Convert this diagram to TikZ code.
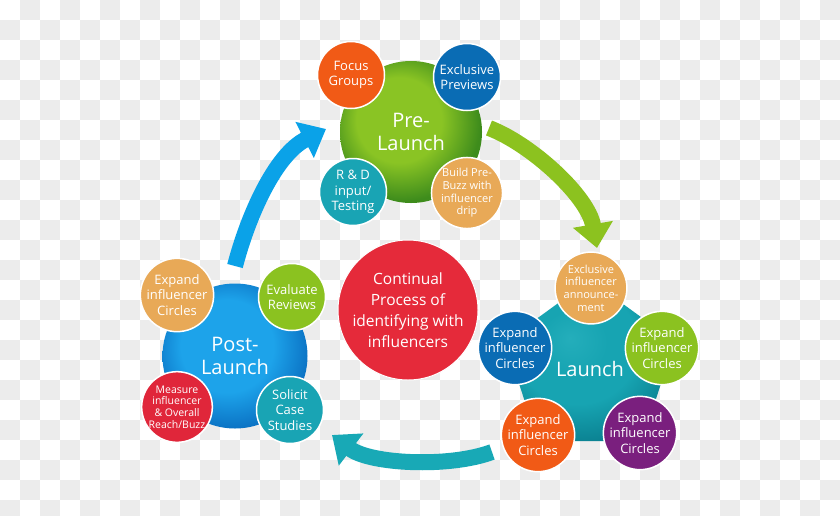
\documentclass[tikz,border=0pt]{standalone}
\usepackage{fontspec}
\setmainfont{Open Sans}
\usetikzlibrary{arrows.meta,shapes.geometric}
\definecolor{chk}{HTML}{ECECEC}
\definecolor{cOrange}{HTML}{F15A16}
\definecolor{cBlue}{HTML}{0A6CB4}
\definecolor{cTeal}{HTML}{19A4B4}
\definecolor{cTan}{HTML}{E8A957}
\definecolor{cGreen}{HTML}{8BC220}
\definecolor{cPurple}{HTML}{7A1F7E}
\definecolor{cRed}{HTML}{E0263A}
\definecolor{cCenter}{HTML}{E52A3A}
\definecolor{aBlue}{HTML}{0AA2E8}
\definecolor{aGreen}{HTML}{8CC21F}
\definecolor{aTeal}{HTML}{18A9B6}
\definecolor{gLight}{HTML}{8AC424}
\definecolor{gDark}{HTML}{3E8C1C}
\definecolor{bLight}{HTML}{1DA3EA}
\definecolor{bDark}{HTML}{0A70C2}
\definecolor{tLight}{HTML}{24AEBB}
\definecolor{tMid}{HTML}{17A4B2}
\definecolor{tDark}{HTML}{0A8090}
\pgfdeclareradialshading{greenball}{\pgfpoint{-6bp}{6bp}}{color(0bp)=(gLight); color(15bp)=(gLight); color(27bp)=(gDark); color(50bp)=(gDark)}
\pgfdeclareradialshading{blueball}{\pgfpoint{-4bp}{5bp}}{color(0bp)=(bLight); color(16bp)=(bLight); color(28bp)=(bDark); color(50bp)=(bDark)}
\pgfdeclareradialshading{tealball}{\pgfpoint{-6bp}{7bp}}{color(0bp)=(tLight); color(10bp)=(tMid); color(18bp)=(tMid); color(29bp)=(tDark); color(50bp)=(tDark)}
\tikzset{
  small/.style={circle, minimum size=67pt, inner sep=0pt, draw=white, line width=1.5pt,
    fill=#1, text=white, align=center, font=\fontsize{13}{15.5}\selectfont},
  tiny/.style={font=\fontsize{11}{12.7}\selectfont},
  tinier/.style={font=\fontsize{10.5}{11.6}\selectfont},
  big/.style={circle, minimum size=#1, inner sep=0pt, text=white, align=center,
    font=\fontsize{20}{23.5}\selectfont},
  flow/.style={draw=#1, line width=16pt, -{Triangle[width=39pt,length=24pt]}}
}
\begin{document}
\begin{tikzpicture}[x=1pt,y=-1pt]
\useasboundingbox (0,0) rectangle (840,515);
% checkerboard background
\fill[white] (0,0) rectangle (840,515);
\foreach \i in {0,...,41}{
  \foreach \j in {0,...,25}{
    \pgfmathtruncatemacro{\parity}{mod(\i+\j,2)}
    \ifnum\parity=1 \fill[chk] (\i*20,\j*20) rectangle ++(20,20);\fi
  }
}
% arrows
\coordinate (bA) at (235,266);
\coordinate (bB) at (326,129);
\coordinate (gA) at (489,128);
\coordinate (gB) at (597,248);
\coordinate (tA) at (492,452);
\coordinate (tB) at (332,435);
\draw[flow=aBlue] (bA) .. controls (248,216) and (275,155) .. (bB);
\draw[flow=aGreen] (gA) .. controls (531,144) and (588,196) .. (gB);
\draw[flow=aTeal] (tA) .. controls (449,468) and (370,464) .. (tB);
% central circle
\node[circle, minimum size=140pt, inner sep=0pt, fill=cCenter, draw=white, line width=1pt,
  text=white, align=center, font=\fontsize{15.5}{21}\selectfont] (core) at (408,310)
  {Continual\\Process of\\identifying with\\influencers};
% Pre-Launch
\node[big=142pt, shading=greenball] (pre) at (411,132) {Pre-\\Launch};
\node[small=cOrange] (focus) at (351,75) {Focus\\Groups};
\node[small=cBlue] (prev) at (467,77) {Exclusive\\Previews};
\node[small=cTeal] (rd) at (353,192) {R \& D\\input/\\Testing};
\node[small=cTan, tiny] (buzz) at (467,193) {Build Pre-\\Buzz with\\influencer\\drip};
% Launch
\node[regular polygon, regular polygon sides=5, minimum size=178pt, inner sep=0pt,
  rounded corners=22pt, shading=tealball, text=white, font=\fontsize{20}{23.5}\selectfont]
  (launch) at (590,369) {Launch};
\node[small=cTan, tiny] (ann) at (591,288) {Exclusive\\influencer\\announce-\\ment};
\node[small=cBlue] (l1) at (515,348) {Expand\\influencer\\Circles};
\node[small=cGreen] (l2) at (662,348) {Expand\\influencer\\Circles};
\node[small=cOrange] (l3) at (538,435) {Expand\\influencer\\Circles};
\node[small=cPurple] (l4) at (640,433) {Expand\\influencer\\Circles};
% Post-Launch
\node[big=145pt, shading=blueball] (post) at (235,356) {Post-\\Launch};
\node[small=cTan] (p1) at (177,295) {Expand\\influencer\\Circles};
\node[small=cGreen] (p2) at (292,297) {Evaluate\\Reviews};
\node[small=cRed, tinier] (p3) at (177,407) {Measure\\influencer\\\& Overall\\Reach/Buzz};
\node[small=cTeal] (p4) at (290,410) {Solicit\\Case\\Studies};
\end{tikzpicture}
\end{document}
